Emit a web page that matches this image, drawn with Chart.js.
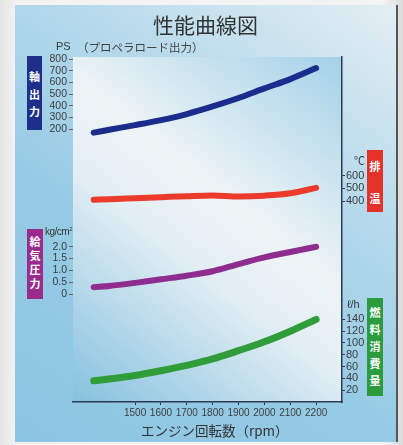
<!DOCTYPE html>
<html>
<head>
<meta charset="utf-8">
<script src="https://cdn.jsdelivr.net/npm/chart.js@4.4.1/dist/chart.umd.min.js"></script>
<style>
  html, body { margin: 0; padding: 0; }
  body { width: 403px; height: 445px; overflow: hidden; position: relative;
         background: linear-gradient(90deg, #e4e4e4 0%, #f2f2f2 4%, #f4f4f4 95%, #d9d9d9 100%);
         font-family: "Noto Sans CJK JP", sans-serif; color: #3a3a3a; }
  #panel { position: absolute; left: 15px; top: 5px; width: 381px; height: 437px;
           background: linear-gradient(215deg, #e4eef3 0%, #b9dbec 30%, #97cbe5 60%, #8cc5e2 100%);
           border-right: 2px solid #555; }
  #chart { position: absolute; left: 0; top: 0; }
  .txt { position: absolute; white-space: nowrap; }
  .box { position: absolute; color: #fff; font-weight: bold; font-size: 11px; text-align: center; }
  .box span { display: block; }
</style>
</head>
<body>
<div id="panel"></div>
<canvas id="chart" width="403" height="445"></canvas>

<div class="txt" style="left:153px; top:9px; font-size:21px; color:#333;">性能曲線図</div>
<div class="txt" style="left:56px; top:40px; font-size:11px; font-family:'Liberation Sans', sans-serif;">PS</div>
<div class="txt" style="left:77px; top:39px; font-size:11.5px; color:#444;">（プロペラロード出力）</div>
<div class="txt" style="left:354px; top:152px; font-size:11px;">℃</div>
<div class="txt" style="left:45px; top:226px; font-size:10px; letter-spacing:-0.5px; font-family:'Liberation Sans', sans-serif;">kg/cm<sup style="font-size:6px;">2</sup></div>
<div class="txt" style="left:347px; top:298px; font-size:11px; font-family:'Liberation Sans', sans-serif;">ℓ/h</div>
<div class="txt" style="left:141px; top:420px; font-size:13.5px; color:#333;">エンジン回転数（rpm）</div>

<div class="box" style="left:27px; top:56px; width:15px; height:74px; background:#1d2f88; padding-top:12px; box-sizing:border-box; line-height:17.5px;"><span>軸</span><span>出</span><span>力</span></div>
<div class="box" style="left:367px; top:150px; width:16px; height:62px; background:#e33229; line-height:32px;"><span>排</span><span>温</span></div>
<div class="box" style="left:27px; top:229px; width:16px; height:70px; background:#9a2b8c; padding-top:5px; box-sizing:border-box; line-height:14px;"><span>給</span><span>気</span><span>圧</span><span>力</span></div>
<div class="box" style="left:367px; top:298px; width:16px; height:98px; background:#2c9b3d; padding-top:6px; box-sizing:border-box; line-height:17px;"><span>燃</span><span>料</span><span>消</span><span>費</span><span>量</span></div>

<script>
// engine speed (rpm) and the four curves
const rpm = [1340, 1400, 1500, 1600, 1700, 1800, 1900, 2000, 2100, 2200];
const shaftPS = [170, 195, 235, 278, 330, 395, 468, 550, 630, 725];
const exhaustTemp = [412, 416, 424, 432, 440, 446, 438, 444, 462, 505];
const boostPress = [0.30, 0.35, 0.48, 0.63, 0.78, 0.97, 1.27, 1.55, 1.78, 2.0];
const fuelRate = [36, 39, 45, 53, 62, 73, 87, 102, 120, 140];

// tick labels
const rpmTicks = [1500, 1600, 1700, 1800, 1900, 2000, 2100, 2200];
const psTicks = [200, 300, 400, 500, 600, 700, 800];
const tempTicks = [400, 500, 600];
const boostTicks = [0, 0.5, 1.0, 1.5, 2.0];
const fuelTicks = [20, 40, 60, 80, 100, 120, 140];

function pts(ys) {
    return rpm.map((r, i) => ({x: r, y: ys[i]}));
}
function fixTicks(vals) {
    return s => { s.ticks = vals.map(v => ({value: v})); };
}

const tickFamily = '"Liberation Sans Narrow", "Liberation Sans", sans-serif';
const tickColor = '#3d3d3d';

// lighter area behind the curves
const plotBg = {
    id: 'plotBg',
    beforeDraw(chart) {
        const {ctx, chartArea: a} = chart;
        const g = ctx.createLinearGradient(a.right, a.top, a.left, a.bottom);
        g.addColorStop(0, '#a4d1e8');
        g.addColorStop(0.42, '#eef4f6');
        g.addColorStop(0.58, '#e2eef4');
        g.addColorStop(1, '#86c1df');
        ctx.save();
        ctx.fillStyle = g;
        ctx.fillRect(a.left, a.top, a.right - a.left, a.bottom - a.top);
        ctx.restore();
    }
};

function leftAxis(ticks, min, max, weight, stackWeight, fmt) {
    return {
        type: 'linear', position: 'left', stack: 'left', weight: weight, stackWeight: stackWeight,
        min: min, max: max,
        afterBuildTicks: fixTicks(ticks),
        afterFit: s => { s.width = 38; },
        grid: {drawOnChartArea: false, tickLength: 4, color: '#666'},
        border: {display: false},
        ticks: {font: {family: tickFamily, size: 10.5}, color: tickColor, padding: 2,
                autoSkip: false, callback: fmt}
    };
}
function rightAxis(ticks, min, max, weight, stackWeight) {
    return {
        type: 'linear', position: 'right', stack: 'right', weight: weight, stackWeight: stackWeight,
        min: min, max: max,
        afterBuildTicks: fixTicks(ticks),
        afterFit: s => { s.width = 30; },
        grid: {drawOnChartArea: false, tickLength: 3, color: '#2c3a55'},
        border: {display: true, color: '#2c3a55', width: 1.5},
        ticks: {font: {family: tickFamily, size: 11}, color: tickColor, padding: 1,
                autoSkip: false, callback: v => String(v)}
    };
}

const lineStyle = {borderWidth: 6, pointRadius: 0, fill: false, cubicInterpolationMode: 'monotone',
                   borderCapStyle: 'round', borderJoinStyle: 'round'};

new Chart(document.getElementById('chart'), {
    type: 'line',
    data: {
        datasets: [
            Object.assign({label: '軸出力', data: pts(shaftPS), borderColor: '#1b2d8c', yAxisID: 'yPs'}, lineStyle),
            Object.assign({label: '排温', data: pts(exhaustTemp), borderColor: '#ec3a2b', yAxisID: 'yTemp'}, lineStyle),
            Object.assign({label: '給気圧力', data: pts(boostPress), borderColor: '#8e2c90', yAxisID: 'yBoost'}, lineStyle),
            Object.assign({label: '燃料消費量', data: pts(fuelRate), borderColor: '#2f9d3a', yAxisID: 'yFuel'}, lineStyle, {borderWidth: 7})
        ]
    },
    options: {
        responsive: false,
        animation: false,
        devicePixelRatio: 1,
        layout: {padding: {left: 35, right: 31, top: 57, bottom: 23}},
        plugins: {legend: {display: false}, tooltip: {enabled: false}},
        scales: {
            x: {
                type: 'linear', min: 1260, max: 2300,
                afterBuildTicks: fixTicks(rpmTicks),
                afterFit: s => { s.height = 20; },
                grid: {drawOnChartArea: false, tickLength: 3, color: '#2c3a55'},
                border: {color: '#2c3a55', width: 1.5},
                ticks: {font: {family: tickFamily, size: 10}, color: tickColor, padding: 2,
                        autoSkip: false, maxRotation: 0, callback: v => String(v)}
            },
            yPs: leftAxis(psTicks, -148, 820, 2, 113, v => String(v)),
            yBoost: leftAxis(boostTicks, -4.53, 5.24, 1, 233, v => v === 0 ? '0' : v.toFixed(1)),
            yTemp: rightAxis(tempTicks, -365, 1526, 1, 243),
            yFuel: rightAxis(fuelTicks, 0, 174, 2, 103)
        }
    },
    plugins: [plotBg]
});
</script>
</body>
</html>
